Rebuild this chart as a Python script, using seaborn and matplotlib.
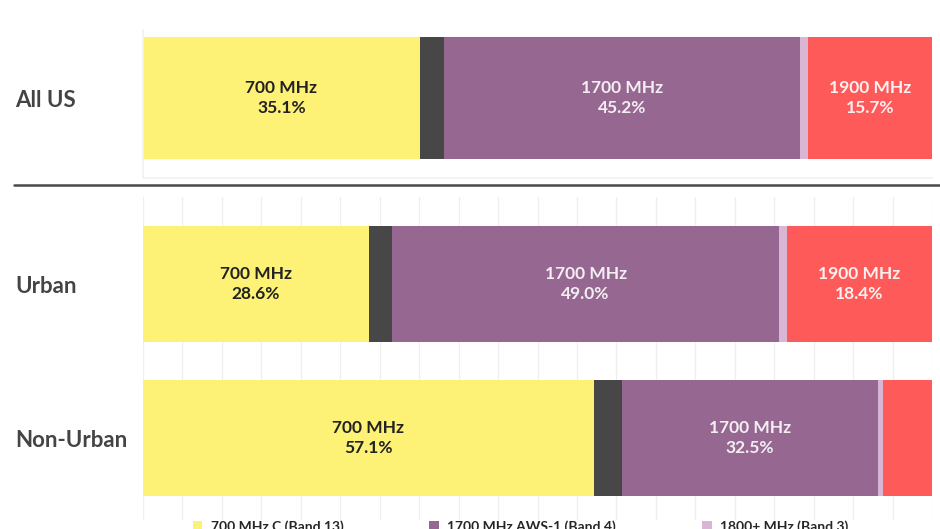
import numpy as np
import pandas as pd
import seaborn as sns
from matplotlib import pyplot as plt
from matplotlib.lines import Line2D
from matplotlib.patches import Patch

# shares of coverage by band (percent)
regions = ["All US", "Urban", "Non-Urban"]
bands = ["700 MHz", "850 MHz", "1700 MHz", "1800+ MHz", "1900 MHz"]
share_700 = [35.1, 28.6, 57.1]
share_850 = [3.0, 3.0, 3.6]
share_1700 = [45.2, 49.0, 32.5]
share_1800 = [1.0, 1.0, 0.6]
share_1900 = [15.7, 18.4, 6.2]
labelled = {"700 MHz": [True, True, True],
            "1700 MHz": [True, True, True],
            "1900 MHz": [True, True, False]}
# legend fills column-wise: the first row shows 700, 1700 and 1800+
legend_bands = ["700 MHz", "850 MHz", "1700 MHz", "1900 MHz", "1800+ MHz"]
legend_names = ["700 MHz C (Band 13)", "850 MHz (Band 5)", "1700 MHz AWS-1 (Band 4)",
                "1900 MHz PCS (Band 2)", "1800+ MHz (Band 3)"]

colors = ["#fdf176", "#474747", "#966891", "#d9b6d4", "#fe5a5a"]
band_color = dict(zip(bands, colors))
text_colors = {"700 MHz": "#222222", "1700 MHz": "#f4eef3", "1900 MHz": "#fdf0f0"}

df = pd.DataFrame({"Region": regions, "700 MHz": share_700, "850 MHz": share_850,
                   "1700 MHz": share_1700, "1800+ MHz": share_1800, "1900 MHz": share_1900})
cum = df[bands].cumsum(axis=1)
cum["Region"] = df["Region"]

sns.set_theme(style="white")
plt.rcParams["font.family"] = ["Lato", "DejaVu Sans"]

fig = plt.figure(figsize=(9.4, 5.29), dpi=100)
W, H = 940, 529
x0, x1 = 143, 932
ax_top = fig.add_axes([x0 / W, 1 - 178 / H, (x1 - x0) / W, 148 / H])
ax_bot = fig.add_axes([x0 / W, 1 - 520 / H, (x1 - x0) / W, 323 / H])


def draw(ax, sub, width):
    # stacked bars: draw the cumulative totals back to front
    for band, col in reversed(list(zip(bands, colors))):
        sns.barplot(data=sub, x=band, y="Region", color=col, width=width,
                    saturation=1, ax=ax, zorder=2, linewidth=0)
    for i, region in enumerate(sub["Region"]):
        k = regions.index(region)
        for band in labelled:
            if not labelled[band][k]:
                continue
            end = sub[band].iloc[i]
            val = df.loc[k, band]
            ax.text(end - val / 2, i, f"{band}\n{val:.1f}%", ha="center", va="center",
                    fontsize=12.5, fontweight="bold", color=text_colors[band],
                    linespacing=1.25, zorder=3)
    ax.set_xlim(0, 100)
    ax.set_xlabel("")
    ax.set_ylabel("")
    ax.set_xticks(np.arange(0, 101, 5))
    ax.set_xticklabels([])
    ax.tick_params(axis="x", length=0)
    ax.tick_params(axis="y", length=0, pad=92, labelsize=16, labelcolor="#444444")
    for lab in ax.get_yticklabels():
        lab.set_horizontalalignment("left")
        lab.set_fontweight("bold")
    for s in ax.spines.values():
        s.set_visible(False)


draw(ax_top, cum[cum["Region"] == "All US"].reset_index(drop=True), 0.8)
ax_top.set_ylim(0.524, -0.446)
ax_top.spines["left"].set_visible(True)
ax_top.spines["bottom"].set_visible(True)
ax_top.spines["left"].set_color("#f2f2f2")
ax_top.spines["bottom"].set_color("#f2f2f2")

draw(ax_bot, cum[cum["Region"] != "All US"].reset_index(drop=True), 0.75)
ax_bot.set_ylim(1.532, -0.565)
ax_bot.grid(axis="x", color="#efefef", linewidth=0.9, zorder=0)

# separator between the national bar and the urban split
fig.add_artist(Line2D([14 / W, 1.0], [1 - 185 / H, 1 - 185 / H], color="#4a4a4a", linewidth=1.8))

handles = [Patch(facecolor=band_color[b], edgecolor="none") for b in legend_bands]
fig.legend(handles, legend_names, loc="upper left", bbox_to_anchor=(180 / W, 1 - 508 / H),
           ncol=3, frameon=False, handlelength=0.7, handleheight=0.7,
           handletextpad=0.6, columnspacing=6.2,
           prop={"weight": "bold", "size": 10})

fig.savefig("out.png", dpi=100)
